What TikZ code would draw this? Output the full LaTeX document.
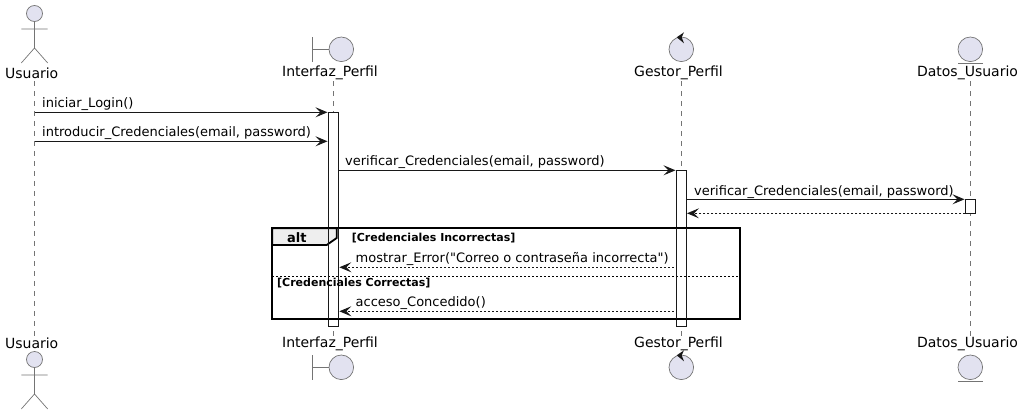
\documentclass[tikz,border=0pt]{standalone}
\usepackage{fontspec}
\setmainfont{DejaVu Sans}
\newfontfamily\plainfont{DejaVu Sans}
\usetikzlibrary{arrows.meta}
\definecolor{partfill}{HTML}{E2E2F0}
\definecolor{ink}{HTML}{181818}
\definecolor{tabfill}{HTML}{EEEEEE}
\tikzset{
  figure/.style={draw=ink!60,line width=0.7pt,fill=partfill},
  figline/.style={draw=ink!60,line width=0.7pt},
  partlabel/.style={inner sep=0pt,font=\fontsize{14}{16}\selectfont},
  msglabel/.style={inner sep=0pt,anchor=base west,font=\fontsize{13}{15}\selectfont},
  guard/.style={inner sep=0pt,anchor=base west,font=\fontsize{11}{13}\selectfont\bfseries},
  lifeline/.style={draw=ink!60,line width=0.7pt,dash pattern=on 5pt off 5pt},
  actbar/.style={draw=ink,line width=1pt,fill=white},
  msg/.style={draw=ink,line width=1pt,-{Stealth[length=12pt,width=10pt,inset=5pt,fill=ink]}},
  reply/.style={msg,dash pattern=on 2pt off 2pt},
  frameline/.style={draw=black,line width=1.8pt},
}
\begin{document}
\begin{tikzpicture}[x=1pt,y=-1pt]
\useasboundingbox (0,0) rectangle (1024,415);
% participant labels
\node[partlabel] (u1) at (31.7,73) {Usuario};
\node[partlabel] (i1) at (330,73) {Interfaz\_Perfil};
\node[partlabel] (g1) at (678.5,73) {Gestor\_Perfil};
\node[partlabel] (d1) at (967.5,73) {Datos\_Usuario};
\node[partlabel] (u2) at (31.7,343.5) {Usuario};
\node[partlabel] (i2) at (330,343.5) {Interfaz\_Perfil};
\node[partlabel] (g2) at (678.5,343.5) {Gestor\_Perfil};
\node[partlabel] (d2) at (967.5,343.5) {Datos\_Usuario};
% lifeline ends
\coordinate (ut) at (34.5,81); \coordinate (ub) at (34.5,336);
\coordinate (it) at (333.3,81); \coordinate (ib) at (333.3,336);
\coordinate (gt) at (681.3,81); \coordinate (gb) at (681.3,336);
\coordinate (dt) at (970.3,81); \coordinate (db) at (970.3,336);
\draw[lifeline] (ut) -- (ub);
\draw[lifeline] (it) -- (ib);
\draw[lifeline] (gt) -- (gb);
\draw[lifeline] (dt) -- (db);
% activation bars
\filldraw[actbar] (328.3,112.3) rectangle (338.3,326.3);
\filldraw[actbar] (676.3,170.3) rectangle (686.3,326.3);
\filldraw[actbar] (965.3,199.3) rectangle (975.3,213.3);
% actors
\foreach \o in {0,346}{
  \begin{scope}[yshift=-\o pt]
  \draw[figure] (34.5,13.5) circle (8);
  \draw[figline] (34.5,21.5) -- (34.5,48) (21.3,29) -- (47.7,29) (21.3,63) -- (34.5,48) -- (47.7,63);
  \end{scope}
}
% boundary, control, entity
\foreach \o in {0,318}{
  \begin{scope}[yshift=-\o pt]
  \draw[figure] (341.3,49.3) circle (12.3);
  \draw[figline] (312.3,37.3) -- (312.3,61.7) (312.3,49.3) -- (329,49.3);
  \draw[figure] (681.3,49.3) circle (12.3);
  \fill[ink] (676.7,37.3) -- (684,32.3) -- (681.7,37.3) -- (684,43.3) -- cycle;
  \draw[figure] (970.3,49.3) circle (12.3);
  \draw[figline] (958,63.3) -- (983,63.3);
  \end{scope}
}
% message ends
\coordinate (m1s) at (34.5,112.3); \coordinate (m1e) at (327.5,112.3);
\coordinate (m2s) at (34.5,141.3); \coordinate (m2e) at (327.5,141.3);
\coordinate (m3s) at (338.3,170.3); \coordinate (m3e) at (675.5,170.3);
\coordinate (m4s) at (686.3,199.3); \coordinate (m4e) at (964.5,199.3);
\coordinate (m5s) at (965.3,213.3); \coordinate (m5e) at (687,213.3);
\coordinate (m6s) at (673.5,267.3); \coordinate (m6e) at (339.3,267.3);
\coordinate (m7s) at (673.5,311.3); \coordinate (m7e) at (339.3,311.3);
\draw[msg] (m1s) -- (m1e);
\draw[msg] (m2s) -- (m2e);
\draw[msg] (m3s) -- (m3e);
\draw[msg] (m4s) -- (m4e);
\draw[reply] (m5s) -- (m5e);
\draw[reply] (m6s) -- (m6e);
\draw[reply] (m7s) -- (m7e);
% alt frame
\draw[frameline,fill=tabfill] (272.3,228.3) -- (336.7,228.3) -- (336.7,238) -- (326.7,245) -- (272.3,245) -- cycle;
\draw[frameline] (272.3,228.3) rectangle (739.7,319);
\draw[draw=black,line width=1pt,dash pattern=on 2pt off 2pt] (272.3,276.3) -- (739.7,276.3);
\draw[draw=ink,line width=1pt] (328.3,228.3) -- (328.3,319) (338.3,228.3) -- (338.3,319) (676.3,228.3) -- (676.3,319) (686.3,228.3) -- (686.3,319);
\node[inner sep=0pt,anchor=base west,font=\fontsize{13}{15}\selectfont\bfseries] (altl) at (287,242) {alt};
\node[guard] (g1t) at (351.6,241) {[Credenciales Incorrectas]};
\node[guard] (g2t) at (277,286) {[Credenciales Correctas]};
% labels
\node[msglabel] (l1) at (42,107.6) {iniciar\_Login()};
\node[msglabel] (l2) at (42,136.6) {introducir\_Credenciales(email, password)};
\node[msglabel] (l3) at (345,165.6) {verificar\_Credenciales(email, password)};
\node[msglabel] (l4) at (694,195) {verificar\_Credenciales(email, password)};
\node[msglabel] (l6) at (355.5,262.5) {\plainfont mostrar\_Error("Correo o contraseña incorrecta")};
\node[msglabel] (l7) at (355.5,306.5) {acceso\_Concedido()};
\end{tikzpicture}
\end{document}
